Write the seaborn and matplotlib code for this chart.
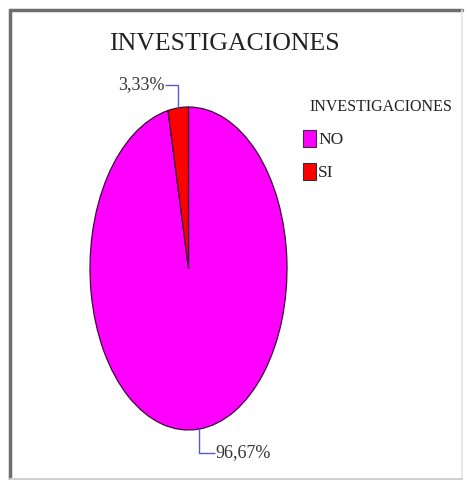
import numpy as np
import matplotlib
matplotlib.use("Agg")
import matplotlib.pyplot as plt
from matplotlib.lines import Line2D
import seaborn as sns

# Data
categories = ["NO", "SI"]
percentages = [96.67, 3.33]
label_texts = ["96,67%", "3,33%"]
title_text = "INVESTIGACIONES"
legend_title = "INVESTIGACIONES"
slice_colors = ["#ff00ff", "#ff0000"]

sns.set_theme(style="white")
plt.rcParams["font.family"] = ["Liberation Serif", "DejaVu Serif"]

W, H = 467, 480
fig = plt.figure(figsize=(W / 100, H / 100), dpi=100)
fig.patch.set_facecolor("white")

# Ellipse centre and radii in pixels
cx, cy = 188.5, 268.5
rx, ry = 98.5, 161.5
lim_x, lim_y = 1.6, 1.3
ax = fig.add_axes([(cx - lim_x * rx) / W, (H - cy - lim_y * ry) / H,
                   2 * lim_x * rx / W, 2 * lim_y * ry / H])

wedges, _ = ax.pie(percentages, colors=slice_colors, startangle=90,
                   counterclock=False,
                   wedgeprops=dict(edgecolor="#3a0a3a", linewidth=0.9))
ax.set_aspect("auto")
ax.set_xlim(-lim_x, lim_x)
ax.set_ylim(-lim_y, lim_y)
ax.axis("off")

# Value labels with elbow leader lines
line_col = "#5a5ad0"
label_y = {"NO": -1.14, "SI": 1.137}
label_dx = {"NO": 0.16, "SI": -0.13}
for w, cat, txt in zip(wedges, categories, label_texts):
    mid = np.deg2rad((w.theta1 + w.theta2) / 2)
    px, py = np.cos(mid), np.sin(mid)
    ly = label_y[cat]
    ex = px + label_dx[cat]
    ax.plot([px, px, ex], [py, ly, ly], color=line_col, lw=1.0,
            clip_on=False, solid_capstyle="butt")
    ha = "left" if label_dx[cat] > 0 else "right"
    ax.text(ex + (0.01 if ha == "left" else -0.01), ly, txt, ha=ha,
            va="center", fontsize=13, color="#333333", clip_on=False)

fig.text(224 / W, 1 - 44 / H, title_text, ha="center", va="center",
         fontsize=18.5, color="#222222")

handles = [plt.Rectangle((0, 0), 1, 1, facecolor=c, edgecolor="#333333",
                         linewidth=0.8) for c in slice_colors]
leg = fig.legend(handles, categories, title=legend_title,
                 loc="upper left", bbox_to_anchor=(291 / W, 1 - 87 / H),
                 frameon=False, fontsize=12.5, title_fontsize=11.5,
                 handlelength=0.72, handleheight=1.1, handletextpad=0.15,
                 labelspacing=0.85, alignment="left", borderpad=0.2)
leg.get_title().set_position((6, 0))
for t in leg.get_texts():
    t.set_color("#222222")
leg.get_title().set_color("#222222")

# Outer frame
fig.add_artist(Line2D([10 / W, 10 / W], [1 - 10 / H, 1 / H],
                      transform=fig.transFigure, color="#6e6e6e", lw=2.5))
fig.add_artist(Line2D([10 / W, 462 / W], [1 - 10 / H, 1 - 10 / H],
                      transform=fig.transFigure, color="#6e6e6e", lw=2.5))
fig.add_artist(Line2D([462 / W, 462 / W], [1 - 10 / H, 1 / H],
                      transform=fig.transFigure, color="#e4e4e4", lw=1.2))
fig.add_artist(Line2D([10 / W, 462 / W], [1.5 / H, 1.5 / H],
                      transform=fig.transFigure, color="#d0d0d0", lw=1.5))

fig.savefig("out.png", dpi=100, facecolor="white")
